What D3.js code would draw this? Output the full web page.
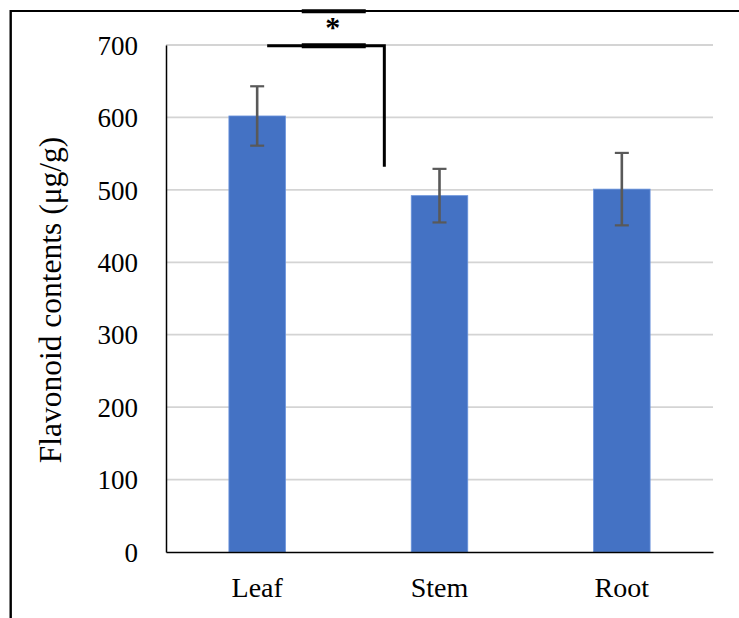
<!DOCTYPE html>
<html>
<head>
<meta charset="utf-8">
<script src="https://cdn.jsdelivr.net/npm/d3@7/dist/d3.min.js"></script>
<style>
  html, body { margin: 0; padding: 0; background: #fff; }
  svg { display: block; }
  text { font-family: "Liberation Serif", "Times New Roman", Times, serif; fill: #000; }
</style>
</head>
<body>
<svg id="chart" width="739" height="618"></svg>
<script>
const categories = ["Leaf", "Stem", "Root"];
const values = [602, 492, 501];
const errors = [41, 37, 50];
const yTicks = [0, 100, 200, 300, 400, 500, 600, 700];
const yLabel = "Flavonoid contents (\u03bcg/g)";
const sigLabel = "*";

const svg = d3.select("#chart");
const W = 739, H = 618;
const plot = { left: 166, right: 713, top: 45, bottom: 552 };

const x = d3.scaleBand().domain(categories)
  .range([plot.left, plot.right]).paddingInner(0.69).paddingOuter(0.345);
const y = d3.scaleLinear().domain([0, 700]).range([plot.bottom, plot.top]);

// frame (cropped figure border)
svg.append("line").attr("x1", 10.5).attr("x2", W).attr("y1", 11).attr("y2", 11)
  .attr("stroke", "#000").attr("stroke-width", 2.2);
svg.append("line").attr("x1", 10.7).attr("x2", 10.7).attr("y1", 10).attr("y2", H)
  .attr("stroke", "#000").attr("stroke-width", 2.4);

// gridlines
svg.append("g").selectAll("line").data(yTicks.filter(d => d > 0)).join("line")
  .attr("x1", plot.left).attr("x2", plot.right)
  .attr("y1", d => y(d)).attr("y2", d => y(d))
  .attr("stroke", "#d4d4d4").attr("stroke-width", 1.8);

// y axis
const yAxis = d3.axisLeft(y).tickValues(yTicks).tickSize(0).tickPadding(28);
const gy = svg.append("g").attr("transform", `translate(${plot.left},0)`).call(yAxis);
gy.attr("font-family", null);
gy.select(".domain").attr("stroke", "#000").attr("stroke-width", 1.5);
gy.selectAll("text").attr("font-size", 27).attr("fill", "#000").attr("dy", "0.34em");

// bars
svg.append("g").selectAll("rect").data(values).join("rect")
  .attr("x", (d, i) => x(categories[i]))
  .attr("y", d => y(d))
  .attr("width", x.bandwidth())
  .attr("height", d => y(0) - y(d))
  .attr("fill", "#4472C4")
  .attr("stroke", "#6a93dc").attr("stroke-width", 0.8);

// error bars
const eg = svg.append("g").attr("stroke", "#595959");
values.forEach((v, i) => {
  const cx = x(categories[i]) + x.bandwidth() / 2;
  eg.append("line").attr("x1", cx).attr("x2", cx)
    .attr("y1", y(v + errors[i])).attr("y2", y(v - errors[i])).attr("stroke-width", 2.6);
  [v + errors[i], v - errors[i]].forEach(e => {
    eg.append("line").attr("x1", cx - 7).attr("x2", cx + 7)
      .attr("y1", y(e)).attr("y2", y(e)).attr("stroke-width", 2.2);
  });
});

// x axis
const xAxis = d3.axisBottom(x).tickSize(0).tickPadding(25);
const gx = svg.append("g").attr("transform", `translate(0,${plot.bottom})`).call(xAxis);
gx.attr("font-family", null);
gx.select(".domain").attr("stroke", "#000").attr("stroke-width", 1.5);
gx.selectAll("text").attr("font-size", 28).attr("fill", "#000");

// y label
svg.append("text")
  .attr("transform", `translate(61,300) rotate(-90)`)
  .attr("text-anchor", "middle")
  .attr("font-size", 31.5)
  .text(yLabel);

// significance bracket
const leafC = x("Leaf") + x.bandwidth() / 2;
const stemC = x("Stem") + x.bandwidth() / 2;
const bx1 = leafC + 10, bx2 = (leafC + stemC) / 2 + 36;
const by = y(700) + 0.7;
svg.append("path")
  .attr("d", `M${bx1},${by} H${bx2 + 1.5} M${bx2},${by} V${y(532)}`)
  .attr("fill", "none").attr("stroke", "#000").attr("stroke-width", 3);
const sx = (bx1 + bx2) / 2 + 8;
svg.append("line").attr("x1", sx - 32).attr("x2", sx + 32).attr("y1", by).attr("y2", by)
  .attr("stroke", "#000").attr("stroke-width", 5);
svg.append("line").attr("x1", sx - 32).attr("x2", sx + 32).attr("y1", 11.3).attr("y2", 11.3)
  .attr("stroke", "#000").attr("stroke-width", 4);
svg.append("text").attr("x", sx - 1).attr("y", 37)
  .attr("text-anchor", "middle").attr("font-size", 30).attr("font-weight", "bold")
  .text(sigLabel);
</script>
</body>
</html>
